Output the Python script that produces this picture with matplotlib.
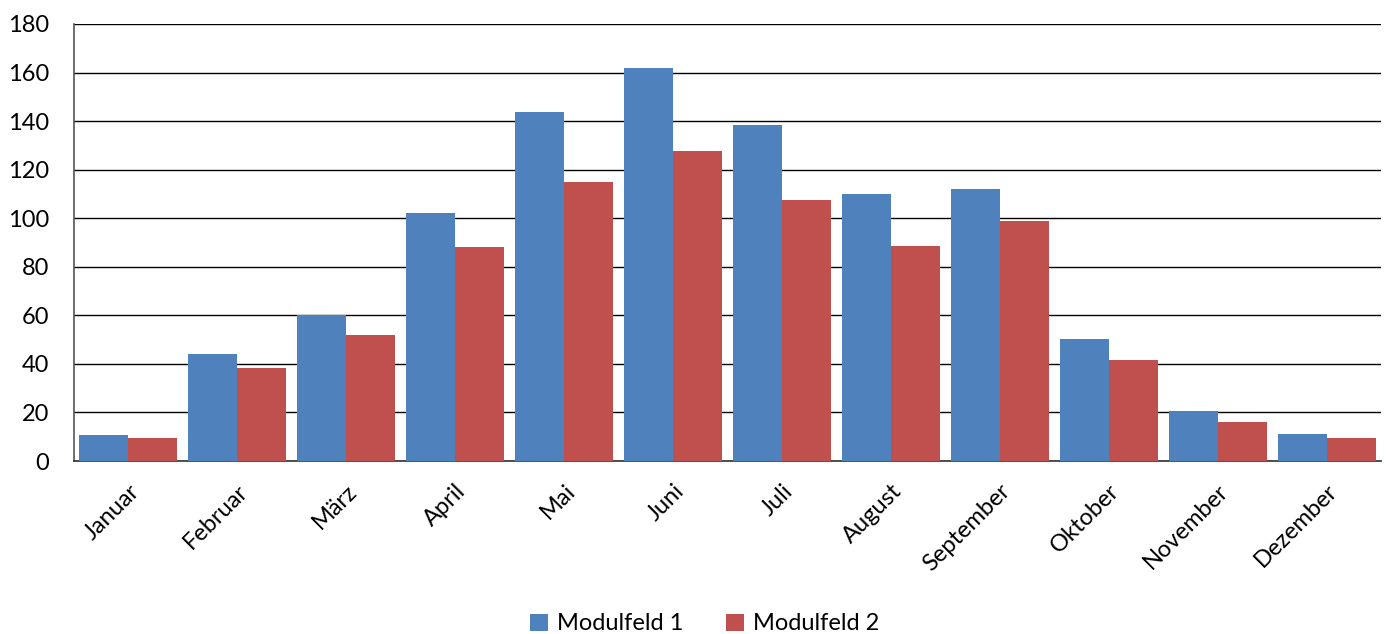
import numpy as np
import matplotlib.pyplot as plt

months = ["Januar", "Februar", "März", "April", "Mai", "Juni", "Juli",
          "August", "September", "Oktober", "November", "Dezember"]
modulfeld_1 = [10.8, 44.0, 60.2, 102.0, 143.8, 162.0, 138.6, 110.0, 112.0, 50.2, 20.6, 11.0]
modulfeld_2 = [9.5, 38.3, 52.0, 88.2, 115.0, 127.6, 107.6, 88.4, 98.8, 41.6, 16.0, 9.3]

plt.rcParams['font.family'] = ['Lato', 'DejaVu Sans']

fig = plt.figure(figsize=(13.86, 6.34), dpi=100)
ax = fig.add_axes([74 / 1386, 1 - 461 / 634, (1381 - 74) / 1386, (461 - 24) / 634])

x = np.arange(len(months))
w = 0.45
ax.bar(x - w / 2, modulfeld_1, w, color="#4F81BD", label="Modulfeld 1", zorder=3)
ax.bar(x + w / 2, modulfeld_2, w, color="#C0504D", label="Modulfeld 2", zorder=3)

ax.set_xlim(-0.5, len(months) - 0.5)
ax.set_ylim(0, 180)
ax.set_yticks(range(0, 181, 20))
ax.yaxis.grid(True, color="black", linewidth=1)
ax.set_axisbelow(True)

ax.set_xticks(x)
ax.set_xticklabels(months, rotation=45, ha="right", rotation_mode="anchor", fontsize=17)
ax.tick_params(axis="both", length=0, labelsize=17)
ax.tick_params(axis="x", pad=14)
ax.tick_params(axis="y", pad=18)

for s in ["top", "right"]:
    ax.spines[s].set_visible(False)
ax.spines["left"].set_color("#555555")
ax.spines["bottom"].set_color("#333333")
ax.spines["left"].set_linewidth(1.2)
ax.spines["bottom"].set_linewidth(1.2)

fig.legend(loc="center", bbox_to_anchor=(705 / 1386, 1 - 624 / 634), ncol=2, frameon=False,
           fontsize=17, handlelength=0.75, handleheight=0.75, handletextpad=0.4,
           columnspacing=1.8, borderpad=0)

fig.savefig("out.png", dpi=100)
